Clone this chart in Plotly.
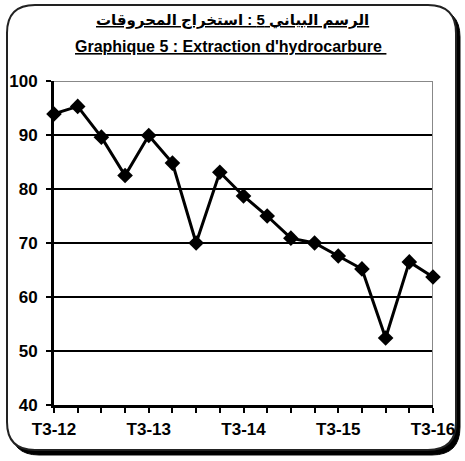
import plotly.graph_objects as go

quarters = ["T3-12", "T4-12", "T1-13", "T2-13", "T3-13", "T4-13", "T1-14", "T2-14",
            "T3-14", "T4-14", "T1-15", "T2-15", "T3-15", "T4-15", "T1-16", "T2-16", "T3-16"]
values = [93.9, 95.3, 89.6, 82.5, 89.9, 84.8, 70.0, 83.1, 78.7, 75.0, 70.9, 70.0,
          67.6, 65.2, 52.4, 66.5, 63.7]
y_ticks = [40, 50, 60, 70, 80, 90, 100]
title_ar = "الرسم البياني 5 : استخراج المحروقات"
title_fr = "Graphique 5 : Extraction d'hydrocarbure "

WIDTH, HEIGHT = 465, 461
L, R, T, B = 54, 32, 81, 56
PW = WIDTH - L - R
PH = HEIGHT - T - B
FONT = "Liberation Sans, Arial, DejaVu Sans, sans-serif"

xs = list(range(len(quarters)))
label_idx = [i for i in xs if i % 4 == 0]

fig = go.Figure()
fig.add_trace(go.Scatter(
    x=xs, y=values, mode="lines+markers",
    line=dict(color="black", width=3),
    marker=dict(symbol="diamond", size=12, color="black"),
    cliponaxis=False,
    hoverinfo="skip", showlegend=False,
))


def p(x, y):
    # window pixel -> paper coords
    return (x - L) / PW, (HEIGHT - B - y) / PH


def rrect(x0, y0, x1, y1, r):
    pts = []
    seq = [
        ("M", [(x0 + r, y0)]),
        ("L", [(x1 - r, y0)]), ("Q", [(x1, y0), (x1, y0 + r)]),
        ("L", [(x1, y1 - r)]), ("Q", [(x1, y1), (x1 - r, y1)]),
        ("L", [(x0 + r, y1)]), ("Q", [(x0, y1), (x0, y1 - r)]),
        ("L", [(x0, y0 + r)]), ("Q", [(x0, y0), (x0 + r, y0)]),
    ]
    for cmd, ps in seq:
        coords = " ".join("%.5f,%.5f" % p(a, b) for a, b in ps)
        pts.append(cmd + " " + coords)
    return " ".join(pts) + " Z"


shapes = [
    dict(type="path", xref="paper", yref="paper", path=rrect(11, 9, 460, 455, 28),
         fillcolor="black", line=dict(color="black", width=1), layer="below"),
    dict(type="path", xref="paper", yref="paper", path=rrect(7, 5, 456, 450, 28),
         fillcolor="white", line=dict(color="#222", width=2), layer="below"),
    dict(type="line", xref="x", yref="y", x0=0, x1=len(quarters) - 1, y0=100, y1=100,
         line=dict(color="#888", width=2), layer="between"),
    dict(type="line", xref="x", yref="y", x0=len(quarters) - 1, x1=len(quarters) - 1,
         y0=40, y1=100, line=dict(color="#888", width=2), layer="between"),
]

annotations = [
    dict(text="<b><span style='text-decoration:underline'>" + title_ar + "</span></b>",
         xref="paper", yref="paper", x=p(232, 0)[0], y=p(0, 20)[1],
         showarrow=False, font=dict(family=FONT, size=15, color="black"),
         xanchor="center", yanchor="middle"),
    dict(text="<b><span style='text-decoration:underline'>" + title_fr + "</span></b>",
         xref="paper", yref="paper", x=p(230, 0)[0], y=p(0, 47)[1],
         showarrow=False, font=dict(family=FONT, size=16, color="black"),
         xanchor="center", yanchor="middle"),
]

fig.update_layout(
    width=WIDTH, height=HEIGHT,
    margin=dict(l=L, r=R, t=T, b=B, pad=0, autoexpand=False),
    paper_bgcolor="white", plot_bgcolor="rgba(0,0,0,0)",
    font=dict(family=FONT, size=17, color="black"),
    shapes=shapes, annotations=annotations,
    showlegend=False,
)
fig.update_xaxes(
    range=[0, len(quarters) - 1],
    tickmode="array", tickvals=label_idx, ticktext=["<b>%s</b>" % quarters[i] for i in label_idx],
    ticks="outside", ticklen=5, tickwidth=2, tickcolor="black",
    minor=dict(dtick=1, tick0=0, ticks="outside", ticklen=5, tickwidth=2, tickcolor="black"),
    showgrid=False, zeroline=False,
    showline=True, linecolor="black", linewidth=3,
    tickfont=dict(family=FONT, size=17, color="black"),
    ticklabelstandoff=2, automargin=False,
    fixedrange=True,
)
fig.update_yaxes(
    range=[40, 100], tickmode="array", tickvals=y_ticks,
    ticktext=["<b>%d</b>" % v for v in y_ticks],
    ticks="outside", ticklen=5, tickwidth=2, tickcolor="black",
    showgrid=True, gridcolor="black", gridwidth=2,
    zeroline=False, showline=True, linecolor="black", linewidth=3,
    tickfont=dict(family=FONT, size=17, color="black"),
    ticklabelstandoff=5, automargin=False,
    fixedrange=True,
)

fig.write_html(
    "out.html",
    config={"displayModeBar": False},
    post_script="document.body.style.margin='0';document.body.style.overflow='hidden';",
)
